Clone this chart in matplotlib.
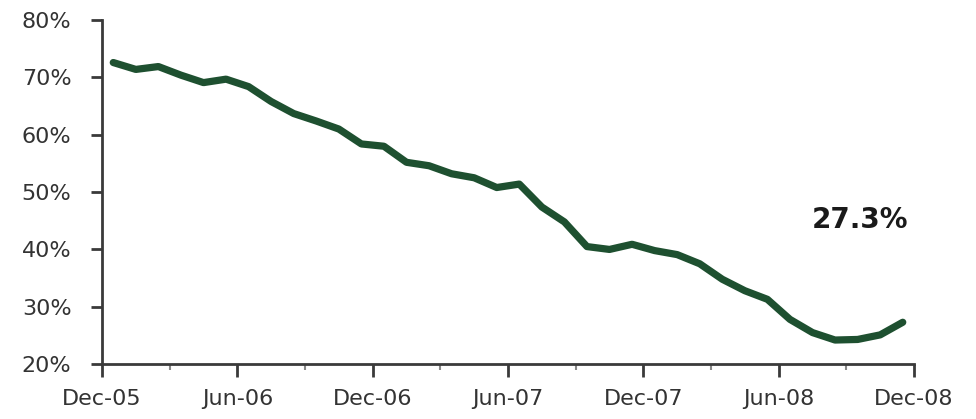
import numpy as np
import matplotlib.pyplot as plt
from matplotlib.ticker import FixedLocator, PercentFormatter

# monthly share, Dec-05 .. Nov-08
share = [72.6, 71.4, 71.9, 70.4, 69.1, 69.7, 68.4, 65.8, 63.7, 62.4,
         61.0, 58.4, 58.0, 55.2, 54.6, 53.2, 52.5, 50.8, 51.4, 47.4,
         44.8, 40.5, 40.0, 40.9, 39.8, 39.1, 37.5, 34.8, 32.8, 31.3,
         27.8, 25.5, 24.2, 24.3, 25.1, 27.3]
tick_labels = ['Dec-05', 'Jun-06', 'Dec-06', 'Jun-07', 'Dec-07', 'Jun-08', 'Dec-08']
last_label = '27.3%'

def main():
    fig = plt.figure(figsize=(9.76, 4.19), dpi=100)
    ax = fig.add_axes([0.1045, 0.131, 0.832, 0.821])

    x = np.arange(len(share)) + 0.5
    ax.plot(x, share, color='#1e5030', linewidth=5.2, solid_capstyle='round',
            solid_joinstyle='round')

    ax.set_xlim(0, 36)
    ax.set_ylim(20, 80)
    ax.set_yticks(np.arange(20, 81, 10))
    ax.yaxis.set_major_formatter(PercentFormatter(decimals=0))
    ax.set_xticks(np.arange(0, 37, 6))
    ax.set_xticklabels(tick_labels)
    ax.xaxis.set_minor_locator(FixedLocator(np.arange(3, 36, 6)))

    for s in ['top', 'right']:
        ax.spines[s].set_visible(False)
    for s in ['left', 'bottom']:
        ax.spines[s].set_color('#3a3a3a')
        ax.spines[s].set_linewidth(2)

    ax.tick_params(axis='y', length=8, width=2, color='#3a3a3a', pad=14,
                   labelsize=16, labelcolor='#333333')
    ax.tick_params(axis='x', which='major', length=9, width=2, color='#3a3a3a',
                   pad=9, labelsize=16, labelcolor='#333333')
    ax.tick_params(axis='x', which='minor', length=4, width=1.5, color='#888888')

    ax.text(33.6, 45.1, last_label, fontsize=20, fontweight='bold',
            color='#1a1a1a', ha='center', va='center')

    fig.savefig('out.png', dpi=100)

if __name__ == '__main__':
    main()
